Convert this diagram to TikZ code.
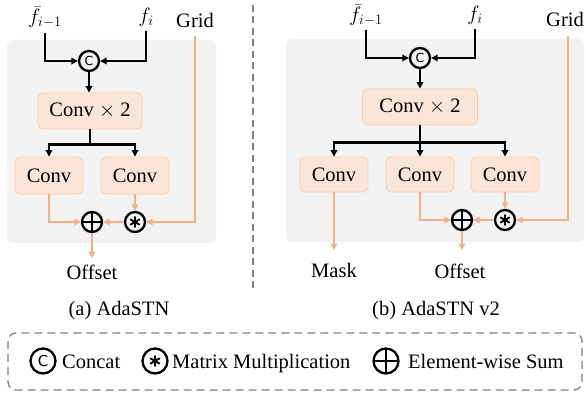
\documentclass[tikz,border=0pt]{standalone}
\usepackage{fontspec}
\setmainfont{Liberation Serif}
\newfontfamily\circfont{DejaVu Sans}
\usetikzlibrary{arrows.meta}
\definecolor{panelgray}{HTML}{F2F2F2}
\definecolor{convfill}{HTML}{FBE5D6}
\definecolor{convdraw}{HTML}{F8CBAD}
\definecolor{orangeline}{HTML}{F4B183}
\definecolor{dashgray}{HTML}{808080}
\begin{document}
\begin{tikzpicture}[x=1pt,y=-1pt,
  font=\fontsize{20.5}{24}\selectfont,
  panel/.style={fill=panelgray, rounded corners=6pt},
  convbox/.style={draw=convdraw, fill=convfill, line width=0.9pt, rounded corners=5pt, inner sep=0pt},
  opcirc/.style={circle, draw=black, line width=2.3pt, minimum size=#1, inner sep=0pt},
  opcirc/.default=20pt,
  catop/.style={opcirc=#1, font=\circfont\fontsize{12.5}{12.5}\selectfont},
  catop/.default=20pt,
  sumop/.style={opcirc=#1, path picture={\draw[line width=2.3pt] (path picture bounding box.north) -- (path picture bounding box.south) (path picture bounding box.west) -- (path picture bounding box.east);}},
  sumop/.default=20pt,
  mulop/.style={opcirc=#1, path picture={\draw[line width=1.9pt, line cap=round]
     (path picture bounding box.center) ++(90:5pt) -- ++(270:10pt)
     (path picture bounding box.center) ++(30:5pt) -- ++(210:10pt)
     (path picture bounding box.center) ++(150:5pt) -- ++(330:10pt);}},
  mulop/.default=20pt,
  blk/.style={draw=black, line width=2.2pt, -{Triangle[length=6.5pt,width=6.5pt]}},
  blkl/.style={draw=black, line width=2.2pt},
  org/.style={draw=orangeline, line width=2.2pt, -{Triangle[length=6.5pt,width=6.5pt]}},
  lbl/.style={inner sep=0pt, anchor=base},
  inlbl/.style={inner sep=0pt, anchor=south},
  dashline/.style={draw=dashgray, line width=1.3pt, dash pattern=on 7pt off 4.5pt}
]
\useasboundingbox (0,0) rectangle (586,393);

% ---------------- panel (a) ----------------
\fill[panel] (7,40) rectangle (216,243);
\node[inlbl] (fa1) at (45,28) {$\bar{f}_{i-1}$};
\node[inlbl] (fb1) at (146,27) {$f_i$};
\node[inlbl] (gr1) at (195,28) {Grid};
\coordinate (fa1s) at (45,33);
\coordinate (fb1s) at (146,31);
\coordinate (gr1s) at (195,36);
\node[catop] (c1) at (89,61) {C};
\draw[blk] (fa1s) |- (c1.west);
\draw[blk] (fb1s) |- (c1.east);
\node[convbox, minimum width=104pt, minimum height=36pt] (cx1) at (90,111) {Conv $\times$ 2};
\draw[blk] (c1.south) -- (c1.south |- cx1.north);
\node[convbox, minimum width=68pt, minimum height=37pt] (cl1) at (49,175.5) {Conv};
\node[convbox, minimum width=68pt, minimum height=37pt] (cr1) at (135,175.5) {Conv};
\draw[blkl] (cx1.south) -- ++(0,15) coordinate (j1);
\draw[blk] (j1) -| (cl1.north);
\draw[blk] (j1) -| (cr1.north);
\node[sumop] (s1) at (92,222) {};
\node[mulop] (m1) at (135,222) {};
\draw[org] (cl1.south) |- (s1.west);
\draw[org] (cr1.south) -- (m1.north);
\draw[org] (m1.west) -- (s1.east);
\draw[org] (gr1s) |- (m1.east);
\node[lbl] (off1) at (92,279) {Offset};
\coordinate (off1t) at (92,258);
\draw[org] (s1.south) -- (off1t);
\node[lbl] (capa) at (119,315) {(a) AdaSTN};

% divider
\draw[dashline] (253,5) -- (253,290);

% ---------------- panel (b) ----------------
\fill[panel] (286,39) rectangle (584,242);
\node[inlbl] (fa2) at (366,26) {$\bar{f}_{i-1}$};
\node[inlbl] (fb2) at (475,25) {$f_i$};
\node[inlbl] (gr2) at (565,27) {Grid};
\coordinate (fa2s) at (366,30);
\coordinate (fb2s) at (475,29);
\coordinate (gr2s) at (568,36);
\node[catop] (c2) at (420,58) {C};
\draw[blk] (fa2s) |- (c2.west);
\draw[blk] (fb2s) |- (c2.east);
\node[convbox, minimum width=115pt, minimum height=36pt] (cx2) at (420,107) {Conv $\times$ 2};
\draw[blk] (c2.south) -- (c2.south |- cx2.north);
\node[convbox, minimum width=68pt, minimum height=35pt] (ca2) at (334,174.5) {Conv};
\node[convbox, minimum width=68pt, minimum height=35pt] (cb2) at (420,174.5) {Conv};
\node[convbox, minimum width=68pt, minimum height=35pt] (cc2) at (505,174.5) {Conv};
\draw[blkl] (cx2.south) -- ++(0,17) coordinate (j2);
\draw[blk] (j2) -| (ca2.north);
\draw[blk] (j2) -| (cc2.north);
\draw[blk] (cx2.south) -- (cb2.north);
\node[sumop] (s2) at (462,220) {};
\node[mulop] (m2) at (505,220) {};
\draw[org] (cb2.south) |- (s2.west);
\draw[org] (cc2.south) -- (m2.north);
\draw[org] (m2.west) -- (s2.east);
\draw[org] (gr2s) |- (m2.east);
\node[lbl] (mask2) at (334,277) {Mask};
\coordinate (mask2t) at (334,250);
\draw[org] (ca2.south) -- (mask2t);
\node[lbl] (off2) at (460,278) {Offset};
\coordinate (off2t) at (462,250);
\draw[org] (s2.south) -- (off2t);
\node[lbl] (capb) at (436,315) {(b) AdaSTN v2};

% ---------------- legend ----------------
\draw[dashline, dash pattern=on 8pt off 5pt, rounded corners=8pt] (8,333) rectangle (582,390);
\node[catop=25pt, font=\circfont\fontsize{15}{15}\selectfont] (lc) at (43,361) {C};
\node[inner sep=0pt, anchor=base west] (lct) at (62,368) {Concat};
\node[mulop=25pt] (lm) at (155,361) {};
\node[inner sep=0pt, anchor=base west] (lmt) at (172,368) {Matrix Multiplication};
\node[sumop=25pt] (ls) at (386,361) {};
\node[inner sep=0pt, anchor=base west] (lst) at (408,368) {Element-wise Sum};
\end{tikzpicture}
\end{document}
